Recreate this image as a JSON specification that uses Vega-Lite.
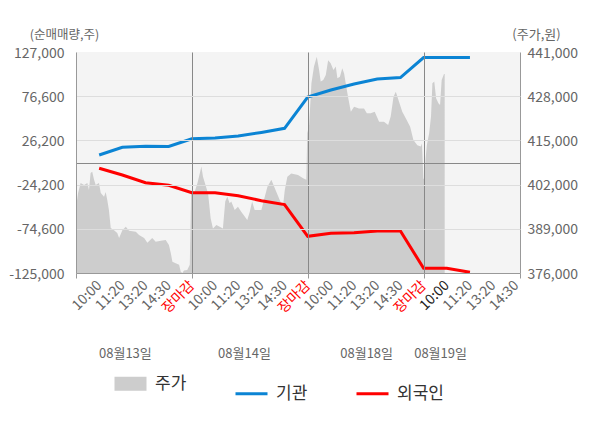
{
  "$schema": "https://vega.github.io/schema/vega-lite/v6.json",
  "width": 444,
  "height": 221,
  "autosize": "none",
  "padding": {"left": 76, "top": 52, "right": 80, "bottom": 155},
  "config": {
    "font": "Noto Sans CJK KR",
    "view": {"fill": "#f4f4f4", "stroke": null},
    "axis": {
      "labelFont": "Noto Sans CJK KR",
      "titleFont": "Noto Sans CJK KR",
      "titleFontWeight": "normal",
      "labelOverlap": false,
      "labelFlush": false,
      "labelColor": "#666666",
      "titleColor": "#666666",
      "domainColor": "#999999"
    },
    "legend": {"labelFont": "Noto Sans CJK KR"}
  },
  "datasets": {
    "price": [
      {"series": "주가", "pos": 0, "price": 395100},
      {"series": "주가", "pos": 0.09, "price": 399500},
      {"series": "주가", "pos": 0.2, "price": 402500},
      {"series": "주가", "pos": 0.35, "price": 401900},
      {"series": "주가", "pos": 0.49, "price": 402500},
      {"series": "주가", "pos": 0.56, "price": 400400},
      {"series": "주가", "pos": 0.63, "price": 405400},
      {"series": "주가", "pos": 0.7, "price": 405800},
      {"series": "주가", "pos": 0.78, "price": 403400},
      {"series": "주가", "pos": 0.85, "price": 401900},
      {"series": "주가", "pos": 0.99, "price": 402500},
      {"series": "주가", "pos": 1.07, "price": 399500},
      {"series": "주가", "pos": 1.21, "price": 398400},
      {"series": "주가", "pos": 1.28, "price": 399800},
      {"series": "주가", "pos": 1.35, "price": 397500},
      {"series": "주가", "pos": 1.42, "price": 394500},
      {"series": "주가", "pos": 1.5, "price": 389200},
      {"series": "주가", "pos": 1.64, "price": 388600},
      {"series": "주가", "pos": 1.78, "price": 387800},
      {"series": "주가", "pos": 1.86, "price": 386300},
      {"series": "주가", "pos": 2.0, "price": 388600},
      {"series": "주가", "pos": 2.15, "price": 389600},
      {"series": "주가", "pos": 2.29, "price": 388400},
      {"series": "주가", "pos": 2.58, "price": 388100},
      {"series": "주가", "pos": 2.72, "price": 387200},
      {"series": "주가", "pos": 2.94, "price": 386300},
      {"series": "주가", "pos": 3.08, "price": 384900},
      {"series": "주가", "pos": 3.29, "price": 386300},
      {"series": "주가", "pos": 3.44, "price": 385200},
      {"series": "주가", "pos": 3.66, "price": 385500},
      {"series": "주가", "pos": 3.87, "price": 385700},
      {"series": "주가", "pos": 4.01, "price": 384200},
      {"series": "주가", "pos": 4.09, "price": 381900},
      {"series": "주가", "pos": 4.16, "price": 379300},
      {"series": "주가", "pos": 4.3, "price": 378900},
      {"series": "주가", "pos": 4.45, "price": 378400},
      {"series": "주가", "pos": 4.52, "price": 376400},
      {"series": "주가", "pos": 4.59, "price": 376000},
      {"series": "주가", "pos": 4.66, "price": 376700},
      {"series": "주가", "pos": 4.8, "price": 376900},
      {"series": "주가", "pos": 4.91, "price": 378400},
      {"series": "주가", "pos": 4.97, "price": 399900},
      {"series": "주가", "pos": 5.12, "price": 399900},
      {"series": "주가", "pos": 5.24, "price": 402400},
      {"series": "주가", "pos": 5.34, "price": 405300},
      {"series": "주가", "pos": 5.41, "price": 407300},
      {"series": "주가", "pos": 5.48, "price": 404300},
      {"series": "주가", "pos": 5.7, "price": 399400},
      {"series": "주가", "pos": 5.81, "price": 392100},
      {"series": "주가", "pos": 5.91, "price": 389100},
      {"series": "주가", "pos": 6.06, "price": 390100},
      {"series": "주가", "pos": 6.2, "price": 389600},
      {"series": "주가", "pos": 6.34, "price": 389100},
      {"series": "주가", "pos": 6.44, "price": 397000},
      {"series": "주가", "pos": 6.53, "price": 398400},
      {"series": "주가", "pos": 6.63, "price": 396500},
      {"series": "주가", "pos": 6.7, "price": 397000},
      {"series": "주가", "pos": 6.85, "price": 394500},
      {"series": "주가", "pos": 6.99, "price": 395500},
      {"series": "주가", "pos": 7.13, "price": 394000},
      {"series": "주가", "pos": 7.28, "price": 392600},
      {"series": "주가", "pos": 7.39, "price": 391600},
      {"series": "주가", "pos": 7.5, "price": 394000},
      {"series": "주가", "pos": 7.6, "price": 397000},
      {"series": "주가", "pos": 7.71, "price": 394500},
      {"series": "주가", "pos": 8.0, "price": 394500},
      {"series": "주가", "pos": 8.11, "price": 397500},
      {"series": "주가", "pos": 8.26, "price": 401400},
      {"series": "주가", "pos": 8.43, "price": 403400},
      {"series": "주가", "pos": 8.58, "price": 400900},
      {"series": "주가", "pos": 8.79, "price": 397500},
      {"series": "주가", "pos": 8.93, "price": 395500},
      {"series": "주가", "pos": 9.01, "price": 400400},
      {"series": "주가", "pos": 9.12, "price": 404300},
      {"series": "주가", "pos": 9.29, "price": 405300},
      {"series": "주가", "pos": 9.58, "price": 404800},
      {"series": "주가", "pos": 9.8, "price": 403900},
      {"series": "주가", "pos": 9.94, "price": 403400},
      {"series": "주가", "pos": 9.98, "price": 417100},
      {"series": "주가", "pos": 10.06, "price": 419500},
      {"series": "주가", "pos": 10.16, "price": 431800},
      {"series": "주가", "pos": 10.27, "price": 436700},
      {"series": "주가", "pos": 10.39, "price": 439600},
      {"series": "주가", "pos": 10.49, "price": 435700},
      {"series": "주가", "pos": 10.56, "price": 432300},
      {"series": "주가", "pos": 10.67, "price": 432800},
      {"series": "주가", "pos": 10.78, "price": 434200},
      {"series": "주가", "pos": 10.88, "price": 438600},
      {"series": "주가", "pos": 10.99, "price": 437700},
      {"series": "주가", "pos": 11.11, "price": 435700},
      {"series": "주가", "pos": 11.21, "price": 436700},
      {"series": "주가", "pos": 11.28, "price": 433300},
      {"series": "주가", "pos": 11.39, "price": 433700},
      {"series": "주가", "pos": 11.49, "price": 436200},
      {"series": "주가", "pos": 11.57, "price": 434700},
      {"series": "주가", "pos": 11.64, "price": 431800},
      {"series": "주가", "pos": 11.74, "price": 427800},
      {"series": "주가", "pos": 11.86, "price": 423400},
      {"series": "주가", "pos": 12.0, "price": 424900},
      {"series": "주가", "pos": 12.21, "price": 424400},
      {"series": "주가", "pos": 12.43, "price": 424400},
      {"series": "주가", "pos": 12.55, "price": 423000},
      {"series": "주가", "pos": 12.72, "price": 423000},
      {"series": "주가", "pos": 12.89, "price": 423400},
      {"series": "주가", "pos": 13.08, "price": 420500},
      {"series": "주가", "pos": 13.29, "price": 420500},
      {"series": "주가", "pos": 13.47, "price": 419500},
      {"series": "주가", "pos": 13.58, "price": 422000},
      {"series": "주가", "pos": 13.7, "price": 427800},
      {"series": "주가", "pos": 13.8, "price": 429300},
      {"series": "주가", "pos": 13.94, "price": 426400},
      {"series": "주가", "pos": 14.08, "price": 423400},
      {"series": "주가", "pos": 14.23, "price": 421500},
      {"series": "주가", "pos": 14.42, "price": 419000},
      {"series": "주가", "pos": 14.56, "price": 415100},
      {"series": "주가", "pos": 14.73, "price": 413600},
      {"series": "주가", "pos": 14.88, "price": 413200},
      {"series": "주가", "pos": 14.93, "price": 414100},
      {"series": "주가", "pos": 14.99, "price": 403900},
      {"series": "주가", "pos": 15.03, "price": 403400},
      {"series": "주가", "pos": 15.08, "price": 409200},
      {"series": "주가", "pos": 15.14, "price": 413600},
      {"series": "주가", "pos": 15.24, "price": 417100},
      {"series": "주가", "pos": 15.32, "price": 422000},
      {"series": "주가", "pos": 15.38, "price": 431800},
      {"series": "주가", "pos": 15.46, "price": 432300},
      {"series": "주가", "pos": 15.54, "price": 427400},
      {"series": "주가", "pos": 15.64, "price": 425900},
      {"series": "주가", "pos": 15.71, "price": 425400},
      {"series": "주가", "pos": 15.78, "price": 432800},
      {"series": "주가", "pos": 15.88, "price": 434500},
      {"series": "주가", "pos": 15.91, "price": 434500}
    ],
    "flows": [
      {"series": "기관", "pos": 1, "net": 9500},
      {"series": "기관", "pos": 2, "net": 18300},
      {"series": "기관", "pos": 3, "net": 19500},
      {"series": "기관", "pos": 4, "net": 19200},
      {"series": "기관", "pos": 5, "net": 28100},
      {"series": "기관", "pos": 6, "net": 28900},
      {"series": "기관", "pos": 7, "net": 31200},
      {"series": "기관", "pos": 8, "net": 35300},
      {"series": "기관", "pos": 9, "net": 40000},
      {"series": "기관", "pos": 10, "net": 75700},
      {"series": "기관", "pos": 11, "net": 83700},
      {"series": "기관", "pos": 12, "net": 90500},
      {"series": "기관", "pos": 13, "net": 96200},
      {"series": "기관", "pos": 14, "net": 97900},
      {"series": "기관", "pos": 15, "net": 120700},
      {"series": "기관", "pos": 16, "net": 120700},
      {"series": "기관", "pos": 17, "net": 120700},
      {"series": "외국인", "pos": 1, "net": -5600},
      {"series": "외국인", "pos": 2, "net": -13300},
      {"series": "외국인", "pos": 3, "net": -22000},
      {"series": "외국인", "pos": 4, "net": -25000},
      {"series": "외국인", "pos": 5, "net": -33400},
      {"series": "외국인", "pos": 6, "net": -33400},
      {"series": "외국인", "pos": 7, "net": -36900},
      {"series": "외국인", "pos": 8, "net": -42600},
      {"series": "외국인", "pos": 9, "net": -46900},
      {"series": "외국인", "pos": 10, "net": -83200},
      {"series": "외국인", "pos": 11, "net": -79700},
      {"series": "외국인", "pos": 12, "net": -79200},
      {"series": "외국인", "pos": 13, "net": -77100},
      {"series": "외국인", "pos": 14, "net": -77100},
      {"series": "외국인", "pos": 15, "net": -119600},
      {"series": "외국인", "pos": 16, "net": -119600},
      {"series": "외국인", "pos": 17, "net": -124200}
    ],
    "days": [
      {"pos": 2.11, "day": "08월13일"},
      {"pos": 7.25, "day": "08월14일"},
      {"pos": 12.52, "day": "08월18일"},
      {"pos": 15.71, "day": "08월19일"}
    ]
  },
  "layer": [
    {
      "data": {"name": "price"},
      "mark": {"type": "area", "fillOpacity": 1, "interpolate": "linear", "clip": true},
      "encoding": {
        "x": {
          "field": "pos",
          "type": "quantitative",
          "scale": {"domain": [0, 19.16], "nice": false, "zero": false},
          "axis": {
            "orient": "bottom",
            "title": null,
            "values": [0, 1, 2, 3, 4, 5, 6, 7, 8, 9, 10, 11, 12, 13, 14, 15, 16, 17, 18, 19, 19.16],
            "labelExpr": "datum.value < 1 || datum.value > 19 ? '' : ['장마감', '10:00', '11:20', '13:20', '14:30'][datum.value % 5]",
            "labelAngle": -45,
            "labelAlign": "right",
            "labelBaseline": "middle",
            "labelFontSize": 14,
            "labelPadding": 5,
            "labelColor": {
              "condition": [
                {"test": "datum.value % 5 == 0", "value": "#ff0000"},
                {"test": "datum.value == 16", "value": "#222222"}
              ],
              "value": "#666666"
            },
            "ticks": true,
            "tickSize": 5,
            "tickColor": "#999999",
            "tickOpacity": {"condition": {"test": "datum.value % 5 == 0 || datum.value > 19", "value": 1}, "value": 0},
            "grid": true,
            "gridColor": "#888888",
            "gridOpacity": {"condition": {"test": "datum.value == 5 || datum.value == 10 || datum.value == 15", "value": 1}, "value": 0},
            "zindex": 1
          }
        },
        "y": {
          "field": "price",
          "type": "quantitative",
          "scale": {"domain": [376000, 441000], "nice": false, "zero": false},
          "axis": {
            "orient": "right",
            "values": [376000, 389000, 402000, 415000, 428000, 441000],
            "labelExpr": "format(datum.value, ',')",
            "title": "(주가,원)",
            "titleAngle": 0,
            "titleX": 16,
            "titleY": -18,
            "titleAlign": "center",
            "titleBaseline": "middle",
            "titleFontSize": 13,
            "labelFontSize": 14,
            "labelPadding": 7,
            "labelOffset": 1,
            "ticks": false,
            "grid": false
          }
        },
        "color": {
          "field": "series",
          "type": "nominal",
          "scale": {"domain": ["주가", "기관", "외국인"], "range": ["#cdcdcd", "#0b84d4", "#ff0000"]},
          "legend": {
            "orient": "none",
            "legendX": 46,
            "legendY": 323,
            "direction": "horizontal",
            "title": null,
            "symbolType": "stroke",
            "symbolSize": 1024,
            "symbolStrokeWidth": 3,
            "labelFontSize": 17,
            "labelColor": "#333333",
            "labelOffset": 16,
            "columnPadding": 42,
            "encode": {
              "symbols": {
                "update": {
                  "stroke": {"signal": "scale('color', datum.value)"},
                  "strokeWidth": {"signal": "datum.value === '주가' ? 14 : 3"},
                  "fill": {"value": "transparent"},
                  "opacity": {"value": 1}
                }
              }
            }
          }
        }
      }
    },
    {
      "data": {"name": "flows"},
      "mark": {"type": "line", "strokeWidth": 3, "interpolate": "linear"},
      "encoding": {
        "x": {
          "field": "pos",
          "type": "quantitative",
          "scale": {"domain": [0, 19.16], "nice": false, "zero": false},
          "axis": null
        },
        "y": {
          "field": "net",
          "type": "quantitative",
          "scale": {"domain": [-125000, 127000], "nice": false, "zero": false},
          "axis": {
            "orient": "left",
            "values": [-125000, -74600, -24200, 0, 26200, 76600, 127000],
            "labelExpr": "datum.value == 0 ? '' : replace(format(datum.value, ','), '−', '-')",
            "title": "(순매매량,주)",
            "titleAngle": 0,
            "titleX": -12,
            "titleY": -18,
            "titleAlign": "center",
            "titleBaseline": "middle",
            "titleFontSize": 12.5,
            "labelFontSize": 14,
            "labelPadding": 12,
            "labelOffset": 1,
            "ticks": false,
            "grid": true,
            "gridColor": {"condition": {"test": "datum.value == 0", "value": "#888888"}, "value": "#dddddd"},
            "gridOpacity": {"condition": {"test": "datum.value == 127000", "value": 0}, "value": 1},
            "zindex": 1
          }
        },
        "color": {
          "field": "series",
          "type": "nominal",
          "scale": {"domain": ["주가", "기관", "외국인"], "range": ["#cdcdcd", "#0b84d4", "#ff0000"]}
        }
      }
    },
    {
      "data": {"name": "days"},
      "mark": {"type": "point", "opacity": 0},
      "encoding": {
        "x": {
          "field": "pos",
          "type": "quantitative",
          "scale": {"domain": [0, 19.16], "nice": false, "zero": false},
          "axis": {
            "orient": "bottom",
            "title": null,
            "values": [2.11, 7.25, 12.52, 15.71],
            "labelExpr": "datum.value < 5 ? '08월13일' : datum.value < 10 ? '08월14일' : datum.value < 15 ? '08월18일' : '08월19일'",
            "labelAngle": 0,
            "labelAlign": "center",
            "labelBaseline": "middle",
            "labelFontSize": 13,
            "labelPadding": 5,
            "offset": 75,
            "ticks": false,
            "domain": false,
            "grid": false
          }
        }
      }
    }
  ],
  "resolve": {"scale": {"x": "independent", "y": "independent"}}
}
